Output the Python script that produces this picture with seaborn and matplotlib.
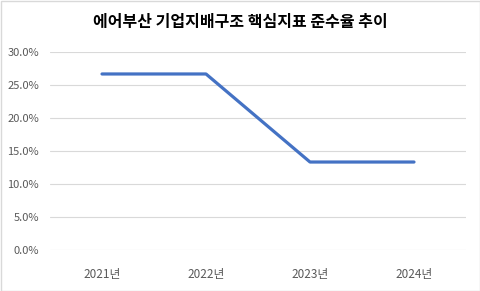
import matplotlib
matplotlib.use("Agg")
import matplotlib.pyplot as plt
import seaborn as sns
import pandas as pd
from matplotlib.ticker import PercentFormatter

years = ["2021년", "2022년", "2023년", "2024년"]
rates = [0.2667, 0.2667, 0.1333, 0.1333]
yticks = [0.0, 0.05, 0.10, 0.15, 0.20, 0.25, 0.30]
title = "에어부산 기업지배구조 핵심지표 준수율 추이"

sns.set_theme(style="white")
plt.rcParams['font.family'] = ['Noto Sans CJK KR', 'DejaVu Sans']

df = pd.DataFrame({"year": years, "rate": rates})

fig = plt.figure(figsize=(4.81, 2.91), dpi=100)
ax = fig.add_axes([50/481, 1-250/291, 416/481, 198/291])

sns.lineplot(data=df, x="year", y="rate", ax=ax, color="#4472C4", linewidth=2.3, sort=False)

ax.set_xlim(-0.5, 3.5)
ax.set_ylim(0, 0.30)
ax.set_yticks(yticks)
ax.yaxis.set_major_formatter(PercentFormatter(1.0, decimals=1))
ax.grid(axis="y", color="#d9d9d9", linewidth=0.8)
ax.set_axisbelow(True)
for s in ax.spines.values():
    s.set_visible(False)
ax.tick_params(axis="y", length=0, labelsize=8, labelcolor="#595959", pad=8)
ax.tick_params(axis="x", length=0, labelsize=8.5, labelcolor="#595959", pad=13)
ax.set_xlabel("")
ax.set_ylabel("")

fig.text(0.5, 1-22/291, title, ha="center", va="center", fontsize=11.5, fontweight="bold", color="#000000")

border = plt.Rectangle((0.5/481, 0.5/291), 1-1/481, 1-1/291, transform=fig.transFigure,
                       fill=False, edgecolor="#d9d9d9", linewidth=1)
fig.patches.append(border)

fig.savefig("out.png", dpi=100)
